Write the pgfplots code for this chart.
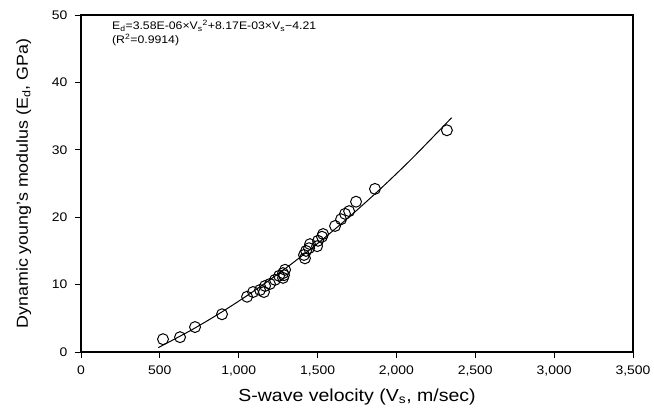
\documentclass[border=0pt]{standalone}
\usepackage{fontspec}
\setmainfont[FakeStretch=1.12]{Liberation Sans}
\usepackage{pgfplots}
\pgfplotsset{compat=1.18}

\begin{document}
\begin{tikzpicture}
\useasboundingbox (-81bp,-63bp) rectangle (573bp,352bp);
\begin{axis}[
    width=552bp, height=337bp,
    scale only axis,
    xmin=0, xmax=3500,
    ymin=0, ymax=50,
    xtick={0,500,1000,1500,2000,2500,3000,3500},
    xticklabels={0,500,{1,000},{1,500},{2,000},{2,500},{3,000},{3,500}},
    ytick={0,10,20,30,40,50},
    tick align=outside,
    xtick pos=left, ytick pos=left,
    major tick length=6bp,
    axis line style={line width=1.6pt},
    every tick/.style={black, line width=1pt},
    tick label style={font=\fontsize{12.5}{12.5}\selectfont},
    xticklabel style={yshift=-4bp},
    yticklabel style={xshift=-4bp},
    /pgf/number format/assume math mode=true,
    xlabel={S-wave velocity (V\textsubscript{s}, m/sec)},
    ylabel={Dynamic young's modulus (E\textsubscript{d}, GPa)},
    xlabel style={font=\fontsize{17.5}{17.5}\selectfont, yshift=-6bp},
    ylabel style={font=\fontsize{16}{16}\selectfont, yshift=14bp},
]

% measured points
\addplot[only marks, mark=o, mark size=5.5pt, black, line width=1pt] coordinates {
    (520,1.9) (628,2.2) (723,3.7) (894,5.6) (1053,8.2) (1091,8.9)
    (1135,9.2) (1160,8.9) (1167,9.8) (1198,10.1) (1230,10.7) (1256,11.3)
    (1281,11.0) (1281,11.7) (1287,11.4) (1294,12.2) (1414,14.4) (1420,13.9)
    (1427,15.0) (1446,15.4) (1452,16.0) (1497,15.7) (1503,16.5) (1528,17.1)
    (1535,17.5) (1611,18.7) (1649,19.7) (1674,20.5) (1700,20.9) (1744,22.3)
    (1864,24.2) (2320,32.9)
};

% regression curve
\addplot[black, line width=1pt, smooth] coordinates {
    (490,0.65) (700,3.26) (900,6.04) (1100,9.11) (1300,12.46) (1500,16.10)
    (1700,20.03) (1900,24.24) (2100,28.74) (2350,34.76)
};

\node[anchor=north west, align=left, font=\fontsize{11}{14}\selectfont]
    at (rel axis cs:0.05,0.995)
    {E\textsubscript{d}=3.58E-06×V\textsubscript{s}\textsuperscript{2}+8.17E-03×V\textsubscript{s}−4.21\\(R\textsuperscript{2}=0.9914)};
\end{axis}
\end{tikzpicture}
\end{document}
